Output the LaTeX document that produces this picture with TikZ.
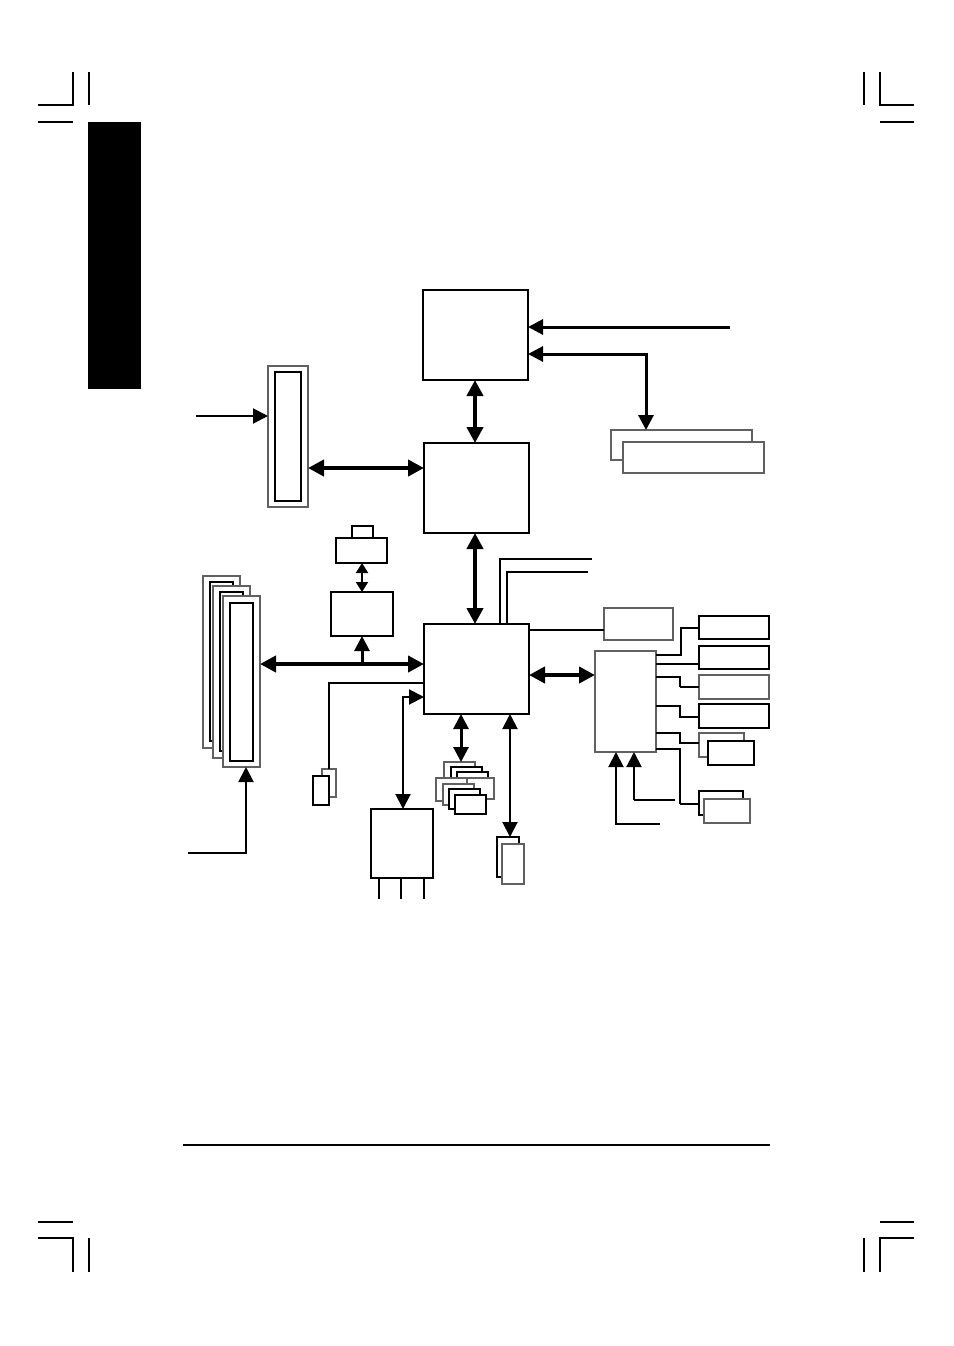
\documentclass[tikz,border=0pt]{standalone}
\usetikzlibrary{arrows.meta}
\newcommand{\bx}[6]{\node[#1,minimum width={(#5-#3)*0.5pt},minimum height={(#6-#4)*0.5pt}] (#2) at ({(#3+#5)/2},{(#4+#6)/2}) {};}
\begin{document}
\begin{tikzpicture}[x=0.5pt,y=-0.5pt,
  >={Triangle[length=7.5pt,width=7.5pt]},
  blk/.style={draw=black,line width=1.1pt,fill=white,inner sep=0pt,outer sep=0pt},
  tbox/.style={draw=black,line width=0.7pt,fill=white,inner sep=0pt,outer sep=0pt},
  gbox/.style={draw=black!62,line width=0.8pt,fill=white,inner sep=0pt,outer sep=0pt},
  thick2/.style={line width=2pt,>={Triangle[length=8pt,width=8pt]}},
  m3/.style={line width=1.5pt},
  mline/.style={line width=1pt},
  tline/.style={line width=0.6pt},
  crop/.style={line width=0.6pt}]
\useasboundingbox (0,0) rectangle (954,1346);
\fill[white] (0,0) rectangle (954,1346);
% crop marks
\draw[crop] (38,105) -- (73,105) -- (73,72);
\draw[crop] (89,72) -- (89,105);
\draw[crop] (38,122) -- (73,122);
\draw[crop] (864,72) -- (864,105);
\draw[crop] (880,72) -- (880,105) -- (914,105);
\draw[crop] (880,122) -- (914,122);
\draw[crop] (38,1222) -- (73,1222);
\draw[crop] (38,1238) -- (73,1238) -- (73,1272);
\draw[crop] (89,1238) -- (89,1272);
\draw[crop] (880,1222) -- (914,1222);
\draw[crop] (864,1238) -- (864,1272);
\draw[crop] (914,1238) -- (880,1238) -- (880,1272);
\fill[black] (88,122) rectangle (141,389);
\draw[line width=1.2pt] (183,1145) -- (770,1145);
% main chips
\bx{blk}{cpu}{423}{290}{528}{380}
\bx{blk}{nb}{424}{443}{529}{533}
\bx{blk}{sb}{424}{624}{529}{714}
% AGP slot
\bx{gbox}{agpo}{268}{366}{308}{507}
\bx{tbox}{agp}{275}{372}{301}{501}
% memory
\bx{gbox}{dimmA}{611}{430}{752}{460}
\bx{gbox}{dimmB}{623}{442}{764}{473}
% clock box and super IO
\bx{gbox}{clk}{604}{608}{673}{640}
\bx{gbox}{sio}{595}{651}{656}{752}
\bx{tbox}{ra}{699}{616}{769}{639}
\bx{tbox}{rb}{699}{646}{769}{669}
\bx{gbox}{rc}{699}{675}{769}{699}
\bx{tbox}{rd}{699}{704}{769}{728}
\bx{gbox}{reB}{699}{733}{744}{757}
\bx{tbox}{reF}{708}{741}{754}{765}
\bx{tbox}{rfB}{699}{791}{743}{815}
\bx{gbox}{rfF}{704}{799}{750}{823}
% stack below SB
\bx{gbox}{stA1}{444}{762}{475}{783}
\bx{tbox}{stA2}{451}{767}{482}{788}
\bx{tbox}{stA3}{457}{772}{488}{793}
\bx{gbox}{stA4}{463}{778}{494}{799}
\bx{gbox}{stB1}{436}{778}{467}{801}
\bx{gbox}{stB2}{443}{784}{474}{805}
\bx{tbox}{stB3}{449}{789}{480}{809}
\bx{tbox}{stB4}{455}{795}{486}{814}
% pair below SB
\bx{tbox}{prB}{497}{837}{519}{877}
\bx{gbox}{prF}{502}{844}{524}{884}
% left lower
\bx{tbox}{tab}{352}{526}{373}{538}
\bx{tbox}{conn}{336}{538}{387}{563}
\bx{tbox}{lan}{331}{592}{393}{636}
\bx{gbox}{p1o}{203}{576}{240}{748}
\bx{tbox}{p1i}{210}{582}{233}{741}
\bx{gbox}{p2o}{213}{586}{250}{758}
\bx{tbox}{p2i}{220}{592}{243}{751}
\bx{gbox}{p3o}{223}{596}{260}{767}
\bx{tbox}{p3i}{230}{603}{253}{761}
\bx{gbox}{spB}{322}{769}{336}{797}
\bx{tbox}{spF}{313}{776}{329}{805}
\bx{tbox}{lpc}{371}{809}{433}{878}
% free ends
\coordinate (cpuin) at (730,327);
\coordinate (agpin) at (196,416);
\coordinate (t1) at (592,559);
\coordinate (t2) at (588,572);
\coordinate (s1) at (660,824);
\coordinate (s2) at (675,800);
\coordinate (s2b) at (634,800);
\coordinate (bj) at (362,664);
\coordinate (pin) at (188,853);
\coordinate (l1) at (379,899);
\coordinate (l2) at (401,899);
\coordinate (l3) at (424,899);
% connectors
\draw[m3,->] (cpuin) -- (cpu.east |- cpuin);
\draw[m3,<->] (cpu.east |- 0,354) -| (dimmA.north -| 646,0);
\draw[thick2,<->] (cpu.south -| 475,0) -- (nb.north -| 475,0);
\draw[mline,->] (agpin) -- (agpo.west |- agpin);
\draw[thick2,<->] (agpo.east |- 0,468) -- (nb.west |- 0,468);
\draw[thick2,<->] (nb.south -| 475,0) -- (sb.north -| 475,0);
\draw[mline] (sb.north -| 500,0) |- (t1);
\draw[mline] (sb.north -| 507,0) |- (t2);
\draw[mline] (sb.east |- 0,630) -- (clk.west |- 0,630);
\draw[thick2,<->] (sb.east |- 0,675) -- (sio.west |- 0,675);
\draw[mline] (sio.east |- 0,655) -| (681,628) -- (ra.west |- 0,628);
\draw[mline] (sio.east |- 0,664) -- (rb.west |- 0,664);
\draw[mline] (sio.east |- 0,677) -| (680,687);
\draw[tline] (680,687) -- (rc.west |- 0,687);
\draw[mline] (sio.east |- 0,706) -| (680,717) -- (rd.west |- 0,717);
\draw[mline] (sio.east |- 0,733) -| (680,743) -- (reB.west |- 0,743);
\draw[tline] (sio.east |- 0,749) -| (680,804);
\draw[mline] (680,804) -- (rfB.west |- 0,804);
\draw[mline,->] (s1) -| (sio.south -| 616,0);
\draw[tline] (s2) -- (s2b);
\draw[mline,->] (s2b) -- (sio.south -| s2b);
\draw[m3,<->] (sb.south -| 461,0) -- (stA1.north -| 461,0);
\draw[mline,<->] (sb.south -| 510,0) -- (prB.north -| 510,0);
\draw[mline,{Triangle[length=5pt,width=6pt]}-{Triangle[length=5pt,width=6pt]}] (conn.south -| 362,0) -- (lan.north -| 362,0);
\draw[thick2,<->] (p3o.east |- 0,664) -- (sb.west |- 0,664);
\draw[m3,->] (bj) -- (lan.south -| bj);
\draw[mline] (sb.west |- 0,683) -| (spB.north -| 329,0);
\draw[mline,<->] (sb.west |- 0,697) -| (lpc.north -| 403,0);
\draw[mline] (lpc.south -| l1) -- (l1);
\draw[mline] (lpc.south -| l2) -- (l2);
\draw[mline] (lpc.south -| l3) -- (l3);
\draw[mline,->] (pin) -| (p3o.south -| 246,0);
\end{tikzpicture}
\end{document}
